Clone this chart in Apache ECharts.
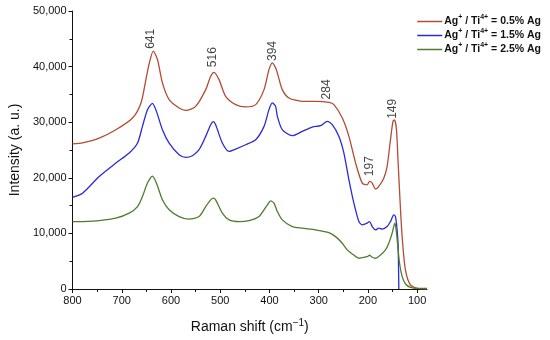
<!DOCTYPE html>
<html>
<head>
<meta charset="utf-8">
<script src="https://cdn.jsdelivr.net/npm/echarts@6/dist/echarts.min.js"></script>
<style>html,body{margin:0;padding:0;background:#fff}#c{width:550px;height:340px}</style>
</head>
<body>
<div id="c"></div>
<script>
// ---- data ----
const seriesNames = ['0.5%', '1.5%', '2.5%'];

const shiftRed = [800,779.7,745.8,712,678,661,651,644,636,627.5,617.4,603.8,583.5,570,549.8,529.5,519.4,512.6,502.4,489,468.7,448.4,428,411,401,394.2,387.5,384,374,360.4,333.4,306,279.2,269,252,238.6,225,211.6,201.5,196.8,191.3,184.6,177.8,167.6,161,154.2,149,146,142,138.6,135.2,130.5,123.8,113.6,96.6,80];
const intRed   = [26100,26300,27150,28650,30760,33460,37660,40670,42800,41270,37070,34060,32560,32130,32850,35860,38260,38970,37660,34650,33160,32740,33160,35860,39460,40670,39770,38870,35860,34360,33760,33760,33580,33160,30760,27450,22650,19050,18740,19340,19050,17970,18440,19950,22040,26850,30200,30400,28650,22650,16630,9420,3420,720,120,100];

const shiftBlue = [800,779.7,745.8,712,685,668,658,647.8,637.7,629.6,617.4,603.8,583.5,570,556.5,543,529.5,519.4,514,509.3,495.7,482.1,468.7,448.4,428,411,401,394.2,387.5,384,374,353.7,333.4,313.1,296.2,282.6,272.5,258.9,248.8,238.6,228.5,218.4,211.6,201.5,196.8,191.3,184.6,177.8,171,161,154.2,147.4,144.1,140.7,138.6,137.5,137.2];
const intBlue   = [16500,17240,20240,22650,24450,26250,29250,32260,33400,31950,28650,26250,24150,23660,23970,25050,27450,29550,30090,29550,26250,24740,25170,25950,26850,29250,32260,33460,32850,31050,28650,27570,28350,29130,29370,30150,29550,27450,24450,19640,15440,12130,11530,11840,12130,11230,10630,10940,10760,11230,12130,13330,13030,10630,7620,2000,0];

const shiftGreen = [800,779.7,745.8,712,685,668,658,647.8,637.7,629.6,617.4,603.8,583.5,563.2,543,529.5,519.4,514,509.3,495.7,482.1,461.8,441.5,421.2,404.3,397.5,390.8,384,374,353.7,333.4,306.3,279.2,265.7,252.1,242,231.8,218.3,211.6,201.5,196.8,191.3,184.6,174.5,164.3,157.6,150.8,145.3,142.6,139.2,135.8,130.4,123.6,113.5,96.6,80];
const intGreen   = [12100,12130,12310,12740,13640,14830,16630,19050,20300,19050,16040,14240,13030,12560,13030,14830,16040,16340,16040,13640,12430,12130,12310,13030,15140,15860,15440,13930,12430,11230,10940,10630,10150,9420,8230,7030,6310,5530,5650,5830,6070,5710,5530,6130,7030,8230,10040,11840,10630,7620,4630,2220,900,300,60,0];

const peakLabels = ['641','516','394','284','197','149'];
const peakShift  = [641, 516, 394, 284, 197, 149];
const peakLabelIntensity = [45000, 41700, 42800, 35900, 22100, 32400];

const xMajorTicks = [100,200,300,400,500,600,700,800];
const xMinorTicks = [150,250,350,450,550,650,750];

// ---- build ----
const zip = (a, b) => a.map((v, i) => [v, b[i]]);
const colors = ['#b44b35', '#2b2bd6', '#4d7d2f'];
const font = '"Liberation Sans", Arial, sans-serif';

const legendRich = {
  n: { fontFamily: font, fontSize: 10.5, color: '#111', fontWeight: 'bold', lineHeight: 15 },
  s: { fontFamily: font, fontSize: 7, color: '#111', fontWeight: 'bold', verticalAlign: 'top', padding: [0, 0, 6, 0] }
};

const lineSeries = (name, xs, ys, c) => ({
  name, type: 'line', data: zip(xs, ys), xAxisIndex: 0, yAxisIndex: 0,
  symbol: 'none', smooth: 0.25,
  lineStyle: { color: c, width: 1.3 }, itemStyle: { color: c }
});

const option = {
  animation: false,
  grid: { left: 70, right: 123, top: 11, bottom: 51, containLabel: false },
  legend: {
    data: seriesNames, orient: 'vertical', right: 4, top: 9,
    icon: 'rect', itemWidth: 25, itemHeight: 1.5, itemGap: 1,
    formatter: n => '{n|Ag}{s|+}{n| / Ti}{s|4+}{n| = ' + n + ' Ag}',
    textStyle: { rich: legendRich, padding: [0, 0, 0, -3] }
  },
  xAxis: [{
    type: 'value', min: 80, max: 800, inverse: true,
    name: 'Raman shift (cm{s|−1})', nameLocation: 'middle', nameGap: 29,
    nameTextStyle: { fontFamily: font, fontSize: 14, color: '#111',
      rich: { s: { fontFamily: font, fontSize: 10, color: '#111', verticalAlign: 'top', padding: [0, 0, 8, 0] } } },
    axisLine: { show: true, lineStyle: { color: '#111', width: 1 } },
    axisTick: { show: true, customValues: xMajorTicks, length: 4, lineStyle: { color: '#111' } },
    axisLabel: { customValues: xMajorTicks, fontFamily: font, fontSize: 11, color: '#111', margin: 6 },
    splitLine: { show: false }
  }, {
    type: 'value', min: 80, max: 800, inverse: true, position: 'bottom', offset: 0,
    axisLine: { show: false },
    axisTick: { show: true, customValues: xMinorTicks, length: 3, lineStyle: { color: '#111' } },
    axisLabel: { show: false }, splitLine: { show: false }
  }],
  yAxis: {
    type: 'value', min: 0, max: 50000, interval: 10000,
    name: 'Intensity (a. u.)', nameLocation: 'middle', nameGap: 40,
    nameTextStyle: { fontFamily: font, fontSize: 14, color: '#111' },
    axisLine: { show: true, lineStyle: { color: '#111', width: 1 } },
    axisTick: { show: true, length: 4, lineStyle: { color: '#111' } },
    minorTick: { show: true, splitNumber: 2, length: 3, lineStyle: { color: '#111' } },
    axisLabel: { fontFamily: font, fontSize: 11, color: '#111', margin: 6,
      formatter: v => v.toLocaleString('en-US') },
    splitLine: { show: false }
  },
  series: [
    lineSeries(seriesNames[0], shiftRed, intRed, colors[0]),
    lineSeries(seriesNames[1], shiftBlue, intBlue, colors[1]),
    lineSeries(seriesNames[2], shiftGreen, intGreen, colors[2]),
    {
      type: 'scatter', symbolSize: 0, silent: true,
      data: peakShift.map((x, i) => ({ value: [x, peakLabelIntensity[i]], name: peakLabels[i] })),
      label: { show: true, position: 'inside', rotate: 90, formatter: p => p.name,
        fontFamily: font, fontSize: 12, color: '#111' }
    }
  ]
};

echarts.init(document.getElementById('c'), null, { renderer: 'canvas' }).setOption(option);
</script>
</body>
</html>
